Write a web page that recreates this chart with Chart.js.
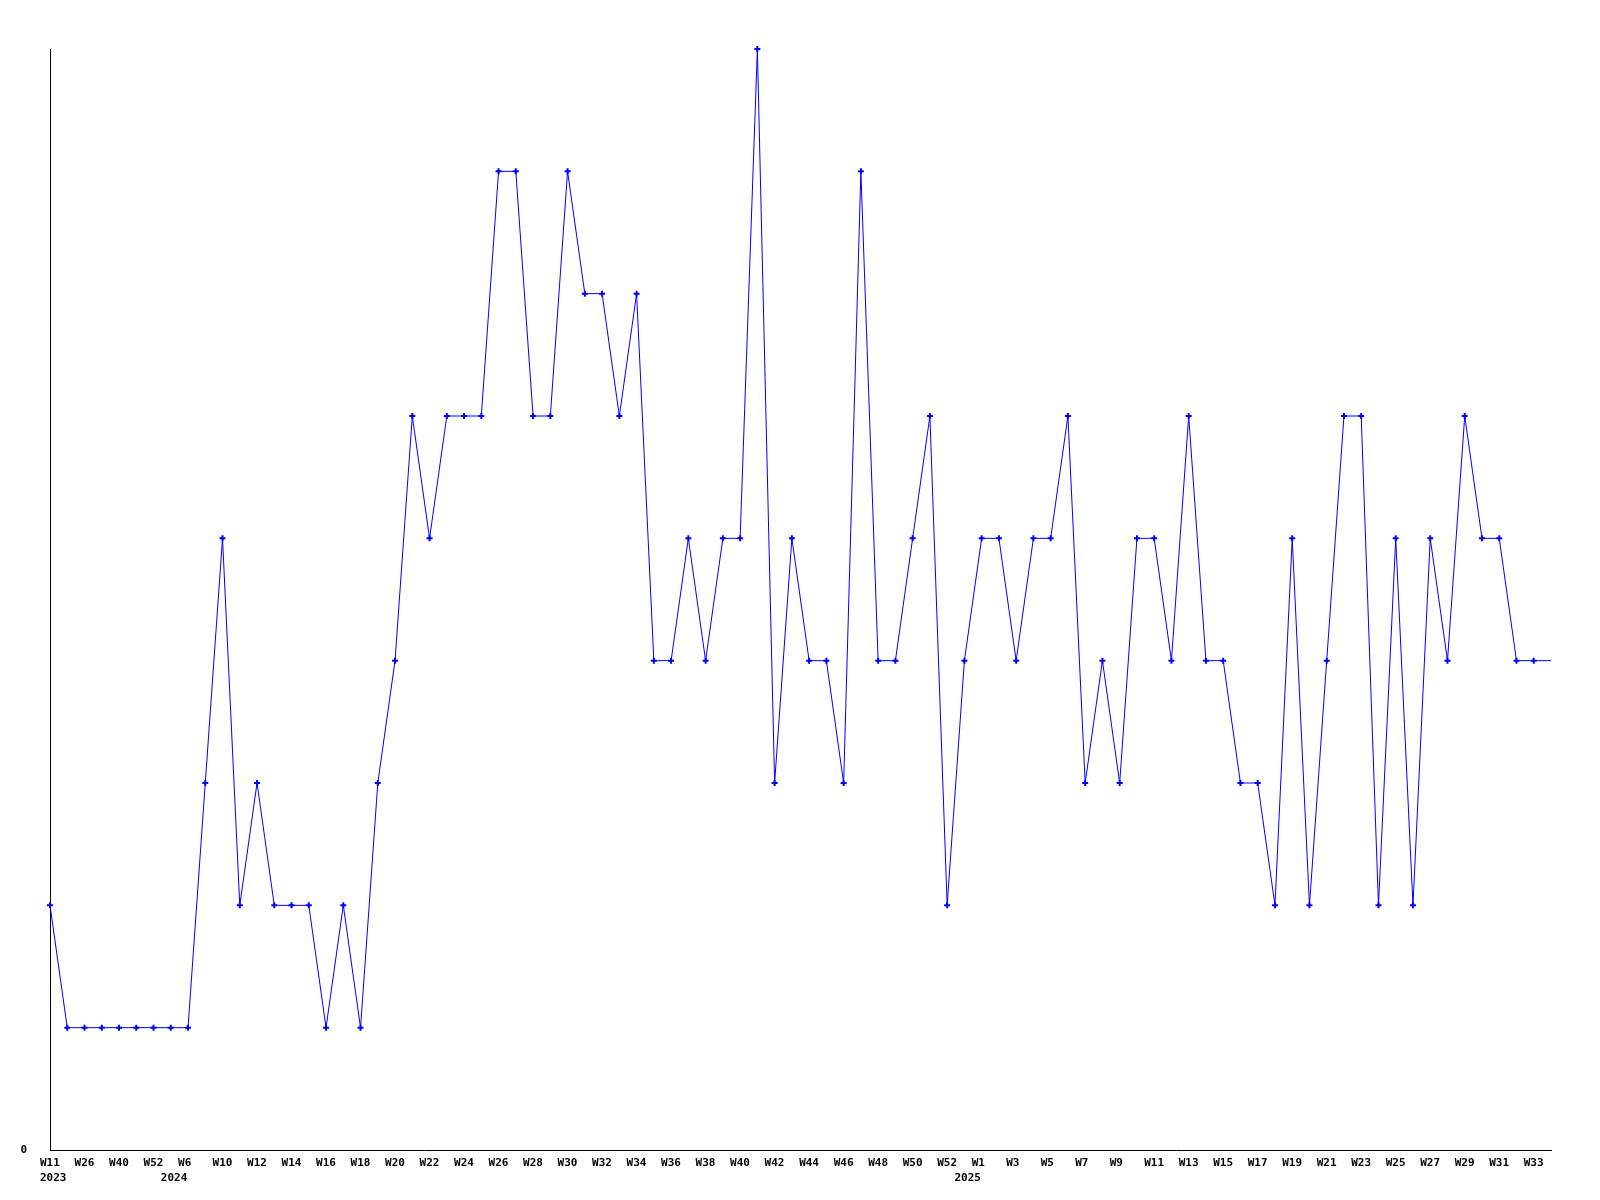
<!DOCTYPE html>
<html>
<head>
<meta charset="utf-8">
<style>
  html, body { margin: 0; padding: 0; background: #fff; }
  #wrap { width: 1600px; height: 1200px; }
</style>
<script src="https://cdn.jsdelivr.net/npm/chart.js@4/dist/chart.umd.min.js"></script>
</head>
<body>
<div id="wrap"><canvas id="weekChart" width="1600" height="1200"></canvas></div>
<script>
// week labels, one per point (only every other one is shown on the axis)
const weeks = [
  'W11', 'W18', 'W26', 'W33', 'W40', 'W46', 'W52', 'W1', 'W6', 'W8',
  'W10', 'W11', 'W12', 'W13', 'W14', 'W15', 'W16', 'W17', 'W18', 'W19',
  'W20', 'W21', 'W22', 'W23', 'W24', 'W25', 'W26', 'W27', 'W28', 'W29',
  'W30', 'W31', 'W32', 'W33', 'W34', 'W35', 'W36', 'W37', 'W38', 'W39',
  'W40', 'W41', 'W42', 'W43', 'W44', 'W45', 'W46', 'W47', 'W48', 'W49',
  'W50', 'W51', 'W52', 'W53', 'W1', 'W2', 'W3', 'W4', 'W5', 'W6',
  'W7', 'W8', 'W9', 'W10', 'W11', 'W12', 'W13', 'W14', 'W15', 'W16',
  'W17', 'W18', 'W19', 'W20', 'W21', 'W22', 'W23', 'W24', 'W25', 'W26',
  'W27', 'W28', 'W29', 'W30', 'W31', 'W32', 'W33', 'W34'
];

// year shown under the axis at these point indexes
const yearStarts = [0, 7, 53];
const yearNames = ['2023', '2024', '2025'];

const counts = [
  2, 1, 1, 1, 1, 1, 1, 1, 1, 3,
  5, 2, 3, 2, 2, 2, 1, 2, 1, 3,
  4, 6, 5, 6, 6, 6, 8, 8, 6, 6,
  8, 7, 7, 6, 7, 4, 4, 5, 4, 5,
  5, 9, 3, 5, 4, 4, 3, 8, 4, 4,
  5, 6, 2, 4, 5, 5, 4, 5, 5, 6,
  3, 4, 3, 5, 5, 4, 6, 4, 4, 3,
  3, 2, 5, 2, 4, 6, 6, 2, 5, 2,
  5, 4, 6, 5, 5, 4, 4, 4
];

const yMax = 9;

const FONT = { family: "'DejaVu Sans Mono', monospace", size: 11, weight: 'bold', lineHeight: 15 / 11 };

new Chart(document.getElementById('weekChart').getContext('2d'), {
  type: 'line',
  data: {
    labels: weeks,
    datasets: [{
      data: counts,
      borderColor: '#0000ff',
      backgroundColor: '#0000ff',
      borderWidth: 1,
      fill: false,
      tension: 0,
      clip: false,
      pointStyle: 'cross',
      pointRadius: ctx => ctx.dataIndex === counts.length - 1 ? 0 : 3,
      pointBorderWidth: 2,
      pointHoverRadius: 3
    }]
  },
  options: {
    responsive: false,
    animation: false,
    layout: {
      padding: { left: 0, top: 49, right: 49, bottom: 0 }
    },
    plugins: {
      legend: { display: false },
      tooltip: { enabled: false }
    },
    scales: {
      x: {
        offset: false,
        grid: { display: false, drawTicks: false },
        border: { display: true, color: '#000', width: 1 },
        ticks: {
          autoSkip: false,
          maxRotation: 0,
          minRotation: 0,
          align: 'start',
          labelOffset: -10,
          padding: 6,
          color: '#000',
          font: FONT,
          callback: (value, index) => {
            const week = index % 2 === 0 ? weeks[index] : '';
            const y = yearStarts.indexOf(index);
            return y >= 0 ? [week, yearNames[y]] : week;
          }
        },
        afterFit: scale => { scale.height = 50; }
      },
      y: {
        min: 0,
        max: yMax,
        grid: { display: false, drawTicks: false },
        border: { display: true, color: '#000', width: 1 },
        ticks: {
          stepSize: yMax,
          padding: 23,
          color: '#000',
          font: FONT,
          callback: v => v === 0 ? '0' : ''
        },
        afterFit: scale => { scale.width = 50; }
      }
    }
  },
  plugins: [{
    id: 'whiteBg',
    beforeDraw: chart => {
      const c = chart.ctx;
      c.save();
      c.fillStyle = '#fff';
      c.fillRect(0, 0, chart.width, chart.height);
      c.restore();
    }
  }]
});
</script>
</body>
</html>
